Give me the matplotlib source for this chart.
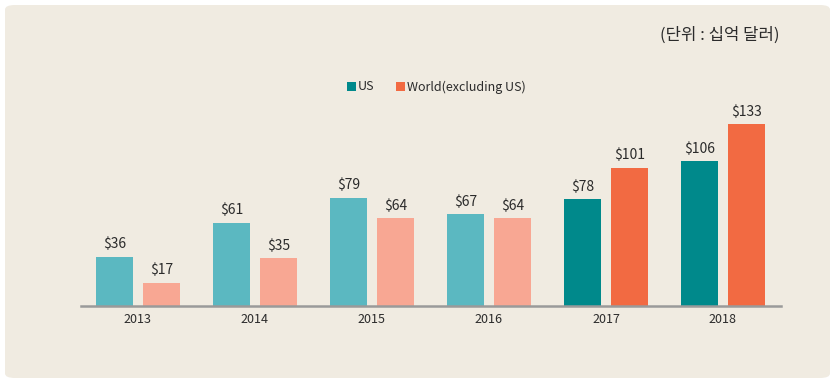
import matplotlib
matplotlib.use("Agg")
import matplotlib.pyplot as plt
from matplotlib.patches import FancyBboxPatch, Rectangle
import numpy as np

plt.rcParams['font.family'] = ['Noto Sans CJK KR', 'DejaVu Sans']

years = ["2013", "2014", "2015", "2016", "2017", "2018"]
us = [36, 61, 79, 67, 78, 106]
world = [17, 35, 64, 64, 101, 133]
us_colors = ["#5BB8C1"] * 4 + ["#00898B"] * 2
world_colors = ["#F8A793"] * 4 + ["#F26A42"] * 2

W, H = 837, 383
fig = plt.figure(figsize=(W / 100, H / 100), dpi=100)
fig.patch.set_facecolor("white")

# rounded background panel
bg = FancyBboxPatch((5 / W, 5 / H), 825 / W, 373 / H,
                    boxstyle="round,pad=0,rounding_size=0.012",
                    transform=fig.transFigure, facecolor="#F0EBE1",
                    edgecolor="none", zorder=-5)
fig.patches.append(bg)

ax = fig.add_axes([81 / W, 77 / H, 700 / W, 206 / H])
ax.set_zorder(2)
ax.set_facecolor("none")
x = np.arange(len(years))
bw = 0.316
ax.bar(x - 0.2, us, bw, color=us_colors, zorder=2)
ax.bar(x + 0.2, world, bw, color=world_colors, zorder=2)
for i in range(len(years)):
    ax.text(x[i] - 0.2, us[i] + 4, f"${us[i]}", ha="center", va="bottom",
            fontsize=10, color="#2b2b2b", fontweight="medium")
    ax.text(x[i] + 0.2, world[i] + 4, f"${world[i]}", ha="center", va="bottom",
            fontsize=10, color="#2b2b2b", fontweight="medium")

ax.set_xlim(-0.487, 5.496)
ax.set_ylim(0, 150.6)
ax.set_xticks(x)
ax.set_xticklabels(years, fontsize=9, color="#2b2b2b")
ax.tick_params(axis="x", length=0, pad=5)
ax.set_yticks([])
for s in ["top", "right", "left"]:
    ax.spines[s].set_visible(False)
ax.spines["bottom"].set_color("#9a9a9a")
ax.spines["bottom"].set_linewidth(1.8)

# legend
def fig_px(px, py):
    return px / W, 1 - py / H

for sx, col, label in [(347, "#00898B", "US"), (396, "#F26A42", "World(excluding US)")]:
    fig.patches.append(Rectangle(fig_px(sx, 91), 9 / W, 9 / H, transform=fig.transFigure,
                                 facecolor=col, edgecolor="none", zorder=3))
    fx, fy = fig_px(sx + 11, 87)
    fig.text(fx, fy, label, ha="left", va="center", fontsize=9, color="#2b2b2b",
             fontweight="medium")

tx, ty = fig_px(780, 35)
fig.text(tx, ty, "(단위 : 십억 달러)", ha="right", va="center", fontsize=12, color="#2b2b2b")

fig.savefig("out.png", dpi=100, facecolor="white")
